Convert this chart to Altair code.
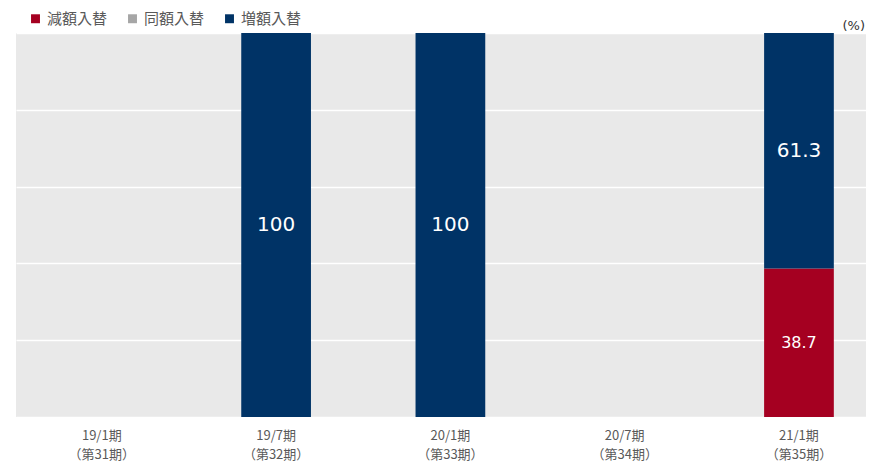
import altair as alt
import pandas as pd

periods = ["19/1期|（第31期）", "19/7期|（第32期）", "20/1期|（第33期）", "20/7期|（第34期）", "21/1期|（第35期）"]
series = ["減額入替", "同額入替", "増額入替"]
colors = ["#a50021", "#a6a6a6", "#003366"]
decrease = [0, 0, 0, 0, 38.7]
same = [0, 0, 0, 0, 0]
increase = [0, 100, 100, 0, 61.3]

rows = []
for i, p in enumerate(periods):
    for k, (s, vals) in enumerate(zip(series, [decrease, same, increase])):
        v = vals[i]
        rows.append({"period": p, "series": s, "value": v, "ord": k,
                     "label": ("100" if v == 100 else f"{v:.1f}") if v > 0 else ""})
df = pd.DataFrame(rows)

W, H = 850, 384
xscale = alt.Scale(domain=periods, paddingInner=0.6, paddingOuter=0.2385, align=0.613)
yscale = alt.Scale(domain=[0, 100])

base = alt.Chart(df).encode(
    x=alt.X("period:N", scale=xscale, sort=periods,
            axis=alt.Axis(title=None, labelAngle=0, domain=False, ticks=False,
                          labelExpr="split(datum.value, '|')", labelPadding=12,
                          labelFontSize=13, labelColor="#595959", labelLineHeight=19,
                          labelFont="Noto Sans CJK JP")),
)

bars = base.mark_bar().encode(
    y=alt.Y("value:Q", stack="zero", scale=yscale,
            axis=alt.Axis(title=None, labels=False, ticks=False, domain=False,
                          grid=True, gridColor="white", gridWidth=1.5,
                          values=[0, 20, 40, 60, 80, 100])),
    color=alt.Color("series:N", scale=alt.Scale(domain=series, range=colors),
                    legend=alt.Legend(title=None, orient="none", legendX=12, legendY=-22,
                                      direction="horizontal", symbolType="square",
                                      symbolSize=80, labelFontSize=15, labelColor="#595959",
                                      labelFont="Noto Sans CJK JP", columnPadding=17,
                                      symbolStrokeWidth=0)),
    order=alt.Order("ord:Q", sort="ascending"),
)

big = base.transform_filter("datum.value > 0").transform_stack(
    stack="value", groupby=["period"], as_=["v0", "v1"], sort=[alt.SortField("ord", "ascending")]
).transform_calculate(mid="(datum.v0 + datum.v1) / 2")

text_big = big.transform_filter("datum.series == '増額入替'").mark_text(
    color="white", fontSize=20, font="DejaVu Sans").encode(
    y=alt.Y("mid:Q", scale=yscale), text="label:N")
text_small = big.transform_filter("datum.series != '増額入替'").mark_text(
    color="white", fontSize=16, font="DejaVu Sans").encode(
    y=alt.Y("mid:Q", scale=yscale), text="label:N")

pct = alt.Chart(pd.DataFrame({"t": ["(%)"]})).mark_text(
    fontSize=13, color="#333333", align="right", font="DejaVu Sans").encode(
    x=alt.value(W - 1), y=alt.value(-7), text="t:N")

chart = alt.layer(bars, text_big, text_small, pct).properties(
    width=W, height=H, background="white",
    autosize=alt.AutoSizeParams(type="none"),
    padding={"left": 8, "top": 25, "right": 0, "bottom": 46}
).configure_view(fill="#e9e9e9", stroke=None)

chart.save("out.html", embed_options={"renderer": "svg", "actions": False})
